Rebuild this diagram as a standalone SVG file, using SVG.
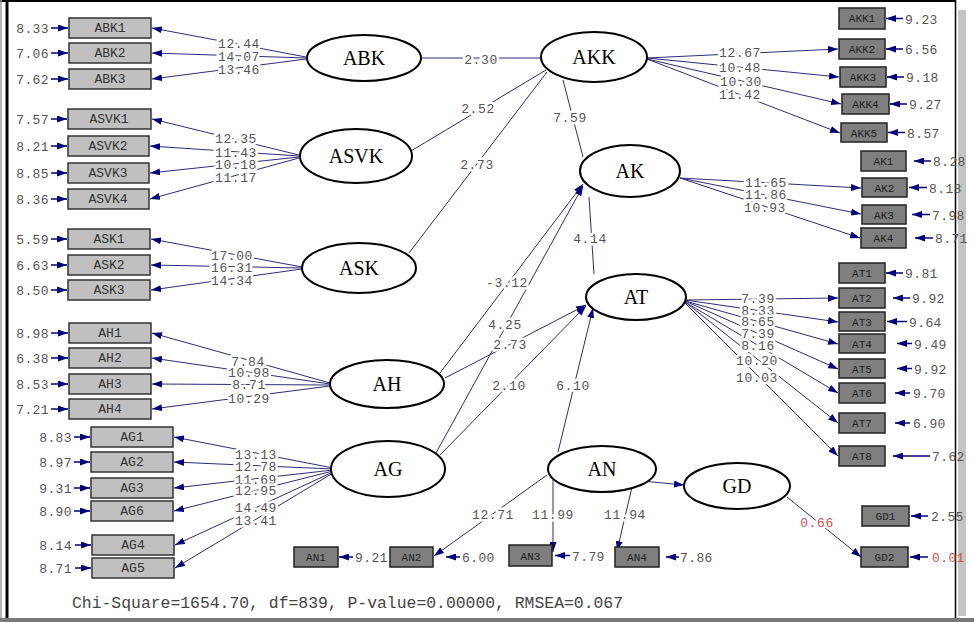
<svg xmlns="http://www.w3.org/2000/svg" width="974" height="622" viewBox="0 0 974 622">
<defs>
<marker id="ah" markerUnits="userSpaceOnUse" markerWidth="10" markerHeight="7" refX="10" refY="3.5" orient="auto">
<path d="M0,0 L10,3.5 L0,7 z" fill="#00007a"/>
</marker>
<style>
.lat ellipse{fill:#fff;stroke:#000;stroke-width:2}
.lat text{font-family:"Liberation Serif","Times New Roman",serif;font-size:20px;text-anchor:middle;fill:#000}
.lb rect{fill:#c0c0c0;stroke:#333;stroke-width:1.5}
.db rect{fill:#7f7f7f;stroke:#222;stroke-width:1.5}
.lt{font-family:"Liberation Mono","Courier New",monospace;font-size:13px;text-anchor:middle;fill:#333}
.dt{font-family:"Liberation Mono","Courier New",monospace;font-size:11px;text-anchor:middle;fill:#222}
.err{font-family:"Liberation Mono","Courier New",monospace;font-size:13px;letter-spacing:0.4px;fill:#555}
.le{text-anchor:end}
.ln{stroke:#2c2c78;stroke-width:1;fill:none}
.ea{stroke:#00007a;stroke-width:1.5;fill:none}
.num{font-family:"Liberation Mono","Courier New",monospace;font-size:13px;letter-spacing:0.6px;fill:#555;text-anchor:middle;stroke:#fff;stroke-width:5px;stroke-linejoin:round;paint-order:stroke}
.red{fill:#d05050}
.chi{font-family:"Liberation Mono","Courier New",monospace;font-size:16px;fill:#444}
</style>
</defs>
<rect x="0" y="0" width="974" height="622" fill="#fff"/>
<g id="frame">
<line x1="0" y1="1" x2="956" y2="1" stroke="#000" stroke-width="2"/>
<line x1="1" y1="0" x2="1" y2="620" stroke="#999" stroke-width="1.5"/>
<line x1="7" y1="0" x2="7" y2="620" stroke="#000" stroke-width="3"/>
<line x1="955.5" y1="0" x2="955.5" y2="619" stroke="#000" stroke-width="1.5"/>
<rect x="958" y="10" width="8" height="606" fill="#c4c4c4"/>
<rect x="0" y="618" width="974" height="4" fill="#7a7a7a"/>
</g>

<g id="connectors">
<line class="ln" x1="306" y1="57" x2="152" y2="28" marker-end="url(#ah)"/>
<line class="ln" x1="306" y1="58" x2="152" y2="53" marker-end="url(#ah)"/>
<line class="ln" x1="306" y1="59" x2="152" y2="79" marker-end="url(#ah)"/>
<line class="ln" x1="299" y1="155" x2="152" y2="119" marker-end="url(#ah)"/>
<line class="ln" x1="299" y1="156" x2="150" y2="146" marker-end="url(#ah)"/>
<line class="ln" x1="299" y1="157" x2="150" y2="173" marker-end="url(#ah)"/>
<line class="ln" x1="299" y1="158" x2="150" y2="199" marker-end="url(#ah)"/>
<line class="ln" x1="302" y1="267" x2="151" y2="239" marker-end="url(#ah)"/>
<line class="ln" x1="302" y1="268" x2="151" y2="265" marker-end="url(#ah)"/>
<line class="ln" x1="302" y1="269" x2="151" y2="290" marker-end="url(#ah)"/>
<line class="ln" x1="330" y1="383" x2="152" y2="333" marker-end="url(#ah)"/>
<line class="ln" x1="330" y1="384" x2="152" y2="358" marker-end="url(#ah)"/>
<line class="ln" x1="330" y1="385" x2="152" y2="384" marker-end="url(#ah)"/>
<line class="ln" x1="330" y1="386" x2="152" y2="409" marker-end="url(#ah)"/>
<line class="ln" x1="333" y1="468" x2="174" y2="437" marker-end="url(#ah)"/>
<line class="ln" x1="333" y1="469" x2="174" y2="462" marker-end="url(#ah)"/>
<line class="ln" x1="333" y1="470" x2="174" y2="488" marker-end="url(#ah)"/>
<line class="ln" x1="333" y1="471" x2="174" y2="511" marker-end="url(#ah)"/>
<line class="ln" x1="333" y1="472" x2="175" y2="545" marker-end="url(#ah)"/>
<line class="ln" x1="333" y1="473" x2="175" y2="568" marker-end="url(#ah)"/>
<line class="ln" x1="647" y1="58" x2="838" y2="49" marker-end="url(#ah)"/>
<line class="ln" x1="647" y1="58" x2="839" y2="77" marker-end="url(#ah)"/>
<line class="ln" x1="647" y1="59" x2="841" y2="104" marker-end="url(#ah)"/>
<line class="ln" x1="647" y1="59" x2="840" y2="133" marker-end="url(#ah)"/>
<line class="ln" x1="680" y1="178" x2="861" y2="188" marker-end="url(#ah)"/>
<line class="ln" x1="680" y1="178" x2="861" y2="214" marker-end="url(#ah)"/>
<line class="ln" x1="680" y1="178" x2="860" y2="238" marker-end="url(#ah)"/>
<line class="ln" x1="685" y1="300" x2="838" y2="298" marker-end="url(#ah)"/>
<line class="ln" x1="685" y1="300" x2="838" y2="322" marker-end="url(#ah)"/>
<line class="ln" x1="685" y1="301" x2="838" y2="344" marker-end="url(#ah)"/>
<line class="ln" x1="685" y1="301" x2="838" y2="369" marker-end="url(#ah)"/>
<line class="ln" x1="685" y1="302" x2="838" y2="393" marker-end="url(#ah)"/>
<line class="ln" x1="685" y1="302" x2="838" y2="423" marker-end="url(#ah)"/>
<line class="ln" x1="685" y1="303" x2="838" y2="456" marker-end="url(#ah)"/>
<line class="ln" x1="421" y1="58" x2="541" y2="58"/>
<line class="ln" x1="411" y1="151" x2="546" y2="70"/>
<line class="ln" x1="409" y1="253" x2="547" y2="72"/>
<line class="ln" x1="563" y1="80" x2="583" y2="157"/>
<line class="ln" x1="589" y1="197" x2="594" y2="274"/>
<line class="ln" x1="440" y1="373" x2="583" y2="184" marker-end="url(#ah)"/>
<line class="ln" x1="436" y1="453" x2="583" y2="186" marker-end="url(#ah)"/>
<line class="ln" x1="445" y1="378" x2="586" y2="305" marker-end="url(#ah)"/>
<line class="ln" x1="440" y1="455" x2="586" y2="306" marker-end="url(#ah)"/>
<line class="ln" x1="558" y1="452" x2="593" y2="308" marker-end="url(#ah)"/>
<line class="ln" x1="642" y1="481" x2="684" y2="485" marker-end="url(#ah)"/>
<line class="ln" x1="787" y1="497" x2="861" y2="557" marker-end="url(#ah)"/>
<line class="ln" x1="547" y1="475" x2="434" y2="556" marker-end="url(#ah)"/>
<line class="ln" x1="553" y1="480" x2="553" y2="552" marker-end="url(#ah)"/>
<line class="ln" x1="632" y1="487" x2="617" y2="551" marker-end="url(#ah)"/>
<g class="ea">
<line x1="51" y1="28" x2="68" y2="28" marker-end="url(#ah)"/>
<line x1="51" y1="53" x2="68" y2="53" marker-end="url(#ah)"/>
<line x1="51" y1="79" x2="68" y2="79" marker-end="url(#ah)"/>
<line x1="51" y1="119" x2="67" y2="119" marker-end="url(#ah)"/>
<line x1="51" y1="146" x2="67" y2="146" marker-end="url(#ah)"/>
<line x1="51" y1="173" x2="67" y2="173" marker-end="url(#ah)"/>
<line x1="51" y1="199" x2="67" y2="199" marker-end="url(#ah)"/>
<line x1="51" y1="239" x2="67" y2="239" marker-end="url(#ah)"/>
<line x1="51" y1="265" x2="67" y2="265" marker-end="url(#ah)"/>
<line x1="51" y1="290" x2="67" y2="290" marker-end="url(#ah)"/>
<line x1="51" y1="333" x2="68" y2="333" marker-end="url(#ah)"/>
<line x1="51" y1="358" x2="68" y2="358" marker-end="url(#ah)"/>
<line x1="51" y1="384" x2="68" y2="384" marker-end="url(#ah)"/>
<line x1="51" y1="409" x2="68" y2="409" marker-end="url(#ah)"/>
<line x1="74" y1="437" x2="90" y2="437" marker-end="url(#ah)"/>
<line x1="74" y1="462" x2="90" y2="462" marker-end="url(#ah)"/>
<line x1="74" y1="488" x2="90" y2="488" marker-end="url(#ah)"/>
<line x1="74" y1="511" x2="90" y2="511" marker-end="url(#ah)"/>
<line x1="75" y1="545" x2="91" y2="545" marker-end="url(#ah)"/>
<line x1="75" y1="568" x2="91" y2="568" marker-end="url(#ah)"/>
</g>
<g class="ea">
<line x1="903" y1="18.5" x2="886" y2="18.5" marker-end="url(#ah)"/>
<line x1="903" y1="49" x2="886" y2="49" marker-end="url(#ah)"/>
<line x1="904" y1="77" x2="887" y2="77" marker-end="url(#ah)"/>
<line x1="907" y1="104" x2="890" y2="104" marker-end="url(#ah)"/>
<line x1="905" y1="132.5" x2="888" y2="132.5" marker-end="url(#ah)"/>
<line x1="931" y1="161" x2="914" y2="161" marker-end="url(#ah)"/>
<line x1="927" y1="187.5" x2="909" y2="187.5" marker-end="url(#ah)"/>
<line x1="930" y1="214.5" x2="912" y2="214.5" marker-end="url(#ah)"/>
<line x1="933" y1="238" x2="915" y2="238" marker-end="url(#ah)"/>
<line x1="903" y1="273" x2="886" y2="273" marker-end="url(#ah)"/>
<line x1="910" y1="298" x2="893" y2="298" marker-end="url(#ah)"/>
<line x1="907" y1="321.5" x2="887" y2="321.5" marker-end="url(#ah)"/>
<line x1="912" y1="343.5" x2="897" y2="343.5" marker-end="url(#ah)"/>
<line x1="912" y1="368.5" x2="897" y2="368.5" marker-end="url(#ah)"/>
<line x1="910" y1="393" x2="895" y2="393" marker-end="url(#ah)"/>
<line x1="910" y1="423" x2="895" y2="423" marker-end="url(#ah)"/>
<line x1="930" y1="456" x2="893" y2="456" marker-end="url(#ah)"/>
<line x1="928" y1="516" x2="911" y2="516" marker-end="url(#ah)"/>
<line x1="928" y1="557" x2="910" y2="557" marker-end="url(#ah)"/>
<line x1="353" y1="557" x2="339" y2="557" marker-end="url(#ah)"/>
<line x1="460" y1="557" x2="446" y2="557" marker-end="url(#ah)"/>
<line x1="570" y1="555.5" x2="555" y2="555.5" marker-end="url(#ah)"/>
<line x1="679" y1="557" x2="666" y2="557" marker-end="url(#ah)"/>
</g>
<text class="num" x="239" y="48">12.44</text>
<text class="num" x="239" y="61">14.07</text>
<text class="num" x="239" y="74">13.46</text>
<text class="num" x="236" y="143">12.35</text>
<text class="num" x="236" y="157">11.43</text>
<text class="num" x="236" y="169">10.18</text>
<text class="num" x="236" y="182">11.17</text>
<text class="num" x="232" y="260">17.00</text>
<text class="num" x="232" y="272">16.31</text>
<text class="num" x="232" y="285">14.34</text>
<text class="num" x="248" y="366">7.84</text>
<text class="num" x="249" y="377">10.98</text>
<text class="num" x="249" y="389">8.71</text>
<text class="num" x="249" y="403">10.29</text>
<text class="num" x="256" y="459">13.13</text>
<text class="num" x="256" y="471">12.78</text>
<text class="num" x="256" y="484">11.69</text>
<text class="num" x="256" y="495">12.95</text>
<text class="num" x="256" y="512">14.49</text>
<text class="num" x="256" y="525">13.41</text>
<text class="num" x="740" y="57">12.67</text>
<text class="num" x="740" y="72">10.48</text>
<text class="num" x="741" y="86">10.30</text>
<text class="num" x="740" y="99">11.42</text>
<text class="num" x="766" y="187">11.65</text>
<text class="num" x="766" y="199">11.86</text>
<text class="num" x="765" y="212">10.93</text>
<text class="num" x="758" y="303">7.39</text>
<text class="num" x="758" y="315">8.33</text>
<text class="num" x="758" y="326">8.65</text>
<text class="num" x="758" y="338">7.39</text>
<text class="num" x="758" y="350">8.16</text>
<text class="num" x="757" y="365">10.20</text>
<text class="num" x="757" y="382">10.03</text>
<text class="num" x="481" y="64">2.30</text>
<text class="num" x="478" y="113">2.52</text>
<text class="num" x="477" y="169">2.73</text>
<text class="num" x="570" y="122">7.59</text>
<text class="num" x="590" y="243">4.14</text>
<text class="num" x="507" y="287">-3.12</text>
<text class="num" x="505" y="329">4.25</text>
<text class="num" x="510" y="349">2.73</text>
<text class="num" x="509" y="390">2.10</text>
<text class="num" x="573" y="390">6.10</text>
<text class="num red" x="817" y="527">0.66</text>
<text class="num" x="493" y="519">12.71</text>
<text class="num" x="553" y="519">11.99</text>
<text class="num" x="625" y="519">11.94</text>
</g>

<g id="ABK" class="lat"><ellipse cx="364" cy="58" rx="57" ry="23"/><text x="364" y="65">ABK</text></g>
<g id="AKK" class="lat"><ellipse cx="594" cy="57" rx="53" ry="25"/><text x="594" y="64">AKK</text></g>
<g id="ASVK" class="lat"><ellipse cx="356" cy="156" rx="56" ry="27"/><text x="356" y="163">ASVK</text></g>
<g id="AK" class="lat"><ellipse cx="630" cy="171" rx="50" ry="26"/><text x="630" y="178">AK</text></g>
<g id="ASK" class="lat"><ellipse cx="359" cy="268" rx="57" ry="25"/><text x="359" y="275">ASK</text></g>
<g id="AT" class="lat"><ellipse cx="636" cy="297" rx="50" ry="23"/><text x="636" y="304">AT</text></g>
<g id="AH" class="lat"><ellipse cx="387" cy="384" rx="57" ry="24"/><text x="387" y="391">AH</text></g>
<g id="AG" class="lat"><ellipse cx="388" cy="469" rx="57" ry="28"/><text x="388" y="476">AG</text></g>
<g id="AN" class="lat"><ellipse cx="602" cy="469" rx="54" ry="23"/><text x="602" y="476">AN</text></g>
<g id="GD" class="lat"><ellipse cx="737" cy="486" rx="53" ry="23"/><text x="737" y="493">GD</text></g>

<g id="ABK1" class="lb"><rect x="69" y="18" width="82" height="20"/><text class="lt" x="110" y="32">ABK1</text><text class="err le" x="49" y="33">8.33</text></g>
<g id="ABK2" class="lb"><rect x="69" y="43" width="82" height="20"/><text class="lt" x="110" y="57">ABK2</text><text class="err le" x="49" y="58">7.06</text></g>
<g id="ABK3" class="lb"><rect x="69" y="69" width="82" height="20"/><text class="lt" x="110" y="83">ABK3</text><text class="err le" x="49" y="84">7.62</text></g>
<g id="ASVK1" class="lb"><rect x="68" y="109" width="83" height="20"/><text class="lt" x="109" y="123">ASVK1</text><text class="err le" x="49" y="124">7.57</text></g>
<g id="ASVK2" class="lb"><rect x="68" y="136" width="81" height="20"/><text class="lt" x="108" y="150">ASVK2</text><text class="err le" x="49" y="151">8.21</text></g>
<g id="ASVK3" class="lb"><rect x="68" y="163" width="81" height="20"/><text class="lt" x="108" y="177">ASVK3</text><text class="err le" x="49" y="178">8.85</text></g>
<g id="ASVK4" class="lb"><rect x="68" y="189" width="81" height="20"/><text class="lt" x="108" y="203">ASVK4</text><text class="err le" x="49" y="204">8.36</text></g>
<g id="ASK1" class="lb"><rect x="68" y="229" width="82" height="20"/><text class="lt" x="109" y="243">ASK1</text><text class="err le" x="49" y="244">5.59</text></g>
<g id="ASK2" class="lb"><rect x="68" y="255" width="82" height="20"/><text class="lt" x="109" y="269">ASK2</text><text class="err le" x="49" y="270">6.63</text></g>
<g id="ASK3" class="lb"><rect x="68" y="280" width="82" height="20"/><text class="lt" x="109" y="294">ASK3</text><text class="err le" x="49" y="295">8.50</text></g>
<g id="AH1" class="lb"><rect x="69" y="323" width="82" height="20"/><text class="lt" x="110" y="337">AH1</text><text class="err le" x="49" y="338">8.98</text></g>
<g id="AH2" class="lb"><rect x="69" y="348" width="82" height="20"/><text class="lt" x="110" y="362">AH2</text><text class="err le" x="49" y="363">6.38</text></g>
<g id="AH3" class="lb"><rect x="69" y="374" width="82" height="20"/><text class="lt" x="110" y="388">AH3</text><text class="err le" x="49" y="389">8.53</text></g>
<g id="AH4" class="lb"><rect x="69" y="399" width="82" height="20"/><text class="lt" x="110" y="413">AH4</text><text class="err le" x="49" y="414">7.21</text></g>
<g id="AG1" class="lb"><rect x="91" y="427" width="82" height="20"/><text class="lt" x="132" y="441">AG1</text><text class="err le" x="72" y="442">8.83</text></g>
<g id="AG2" class="lb"><rect x="91" y="452" width="82" height="20"/><text class="lt" x="132" y="466">AG2</text><text class="err le" x="72" y="467">8.97</text></g>
<g id="AG3" class="lb"><rect x="91" y="478" width="82" height="20"/><text class="lt" x="132" y="492">AG3</text><text class="err le" x="72" y="493">9.31</text></g>
<g id="AG6" class="lb"><rect x="91" y="501" width="82" height="20"/><text class="lt" x="132" y="515">AG6</text><text class="err le" x="72" y="516">8.90</text></g>
<g id="AG4" class="lb"><rect x="92" y="535" width="82" height="20"/><text class="lt" x="133" y="549">AG4</text><text class="err le" x="72" y="550">8.14</text></g>
<g id="AG5" class="lb"><rect x="92" y="558" width="82" height="20"/><text class="lt" x="133" y="572">AG5</text><text class="err le" x="72" y="573">8.71</text></g>

<g id="AKK1" class="db"><rect x="839" y="8" width="46" height="21"/><text class="dt" x="862" y="22">AKK1</text><text class="err" x="905" y="23.5">9.23</text></g>
<g id="AKK2" class="db"><rect x="839" y="39" width="46" height="20"/><text class="dt" x="862" y="53">AKK2</text><text class="err" x="905" y="54">6.56</text></g>
<g id="AKK3" class="db"><rect x="840" y="67" width="46" height="20"/><text class="dt" x="863" y="81">AKK3</text><text class="err" x="906" y="82">9.18</text></g>
<g id="AKK4" class="db"><rect x="842" y="94" width="47" height="20"/><text class="dt" x="865.5" y="108">AKK4</text><text class="err" x="909" y="109">9.27</text></g>
<g id="AKK5" class="db"><rect x="841" y="123" width="46" height="19"/><text class="dt" x="864" y="136.5">AKK5</text><text class="err" x="907" y="137.5">8.57</text></g>
<g id="AK1" class="db"><rect x="861" y="151" width="45" height="20"/><text class="dt" x="883.5" y="165">AK1</text><text class="err" x="933" y="166">8.28</text></g>
<g id="AK2" class="db"><rect x="862" y="178" width="45" height="19"/><text class="dt" x="884.5" y="191.5">AK2</text><text class="err" x="929" y="192.5">8.18</text></g>
<g id="AK3" class="db"><rect x="862" y="205" width="44" height="19"/><text class="dt" x="884" y="218.5">AK3</text><text class="err" x="932" y="219.5">7.98</text></g>
<g id="AK4" class="db"><rect x="861" y="228" width="45" height="20"/><text class="dt" x="883.5" y="242">AK4</text><text class="err" x="935" y="243">8.71</text></g>
<g id="AT1" class="db"><rect x="839" y="263" width="46" height="20"/><text class="dt" x="862" y="277">AT1</text><text class="err" x="905" y="278">9.81</text></g>
<g id="AT2" class="db"><rect x="839" y="288" width="46" height="20"/><text class="dt" x="862" y="302">AT2</text><text class="err" x="912" y="303">9.92</text></g>
<g id="AT3" class="db"><rect x="839" y="312" width="46" height="19"/><text class="dt" x="862" y="325.5">AT3</text><text class="err" x="909" y="326.5">9.64</text></g>
<g id="AT4" class="db"><rect x="839" y="334" width="46" height="19"/><text class="dt" x="862" y="347.5">AT4</text><text class="err" x="914" y="348.5">9.49</text></g>
<g id="AT5" class="db"><rect x="839" y="359" width="46" height="19"/><text class="dt" x="862" y="372.5">AT5</text><text class="err" x="914" y="373.5">9.92</text></g>
<g id="AT6" class="db"><rect x="839" y="383" width="46" height="20"/><text class="dt" x="862" y="397">AT6</text><text class="err" x="913" y="398">9.70</text></g>
<g id="AT7" class="db"><rect x="839" y="413" width="46" height="20"/><text class="dt" x="862" y="427">AT7</text><text class="err" x="913" y="428">6.90</text></g>
<g id="AT8" class="db"><rect x="839" y="446" width="46" height="20"/><text class="dt" x="862" y="460">AT8</text><text class="err" x="932" y="461">7.62</text></g>
<g id="GD1" class="db"><rect x="862" y="506" width="47" height="20"/><text class="dt" x="885.5" y="520">GD1</text><text class="err" x="931" y="521">2.55</text></g>
<g id="GD2" class="db"><rect x="861" y="547" width="47" height="20"/><text class="dt" x="884.5" y="561">GD2</text><text class="err red" x="932" y="562">0.01</text></g>
<g id="AN1" class="db"><rect x="294" y="547" width="44" height="20"/><text class="dt" x="316" y="561">AN1</text><text class="err" x="355" y="562">9.21</text></g>
<g id="AN2" class="db"><rect x="390" y="547" width="43" height="20"/><text class="dt" x="411.5" y="561">AN2</text><text class="err" x="462" y="562">6.00</text></g>
<g id="AN3" class="db"><rect x="509" y="545" width="43" height="21"/><text class="dt" x="530.5" y="559.5">AN3</text><text class="err" x="572" y="560.5">7.79</text></g>
<g id="AN4" class="db"><rect x="615" y="547" width="44" height="20"/><text class="dt" x="637" y="561">AN4</text><text class="err" x="680" y="562">7.86</text></g>

<text class="chi" x="72" y="608" textLength="551" lengthAdjust="spacingAndGlyphs">Chi-Square=1654.70, df=839, P-value=0.00000, RMSEA=0.067</text>
</svg>
